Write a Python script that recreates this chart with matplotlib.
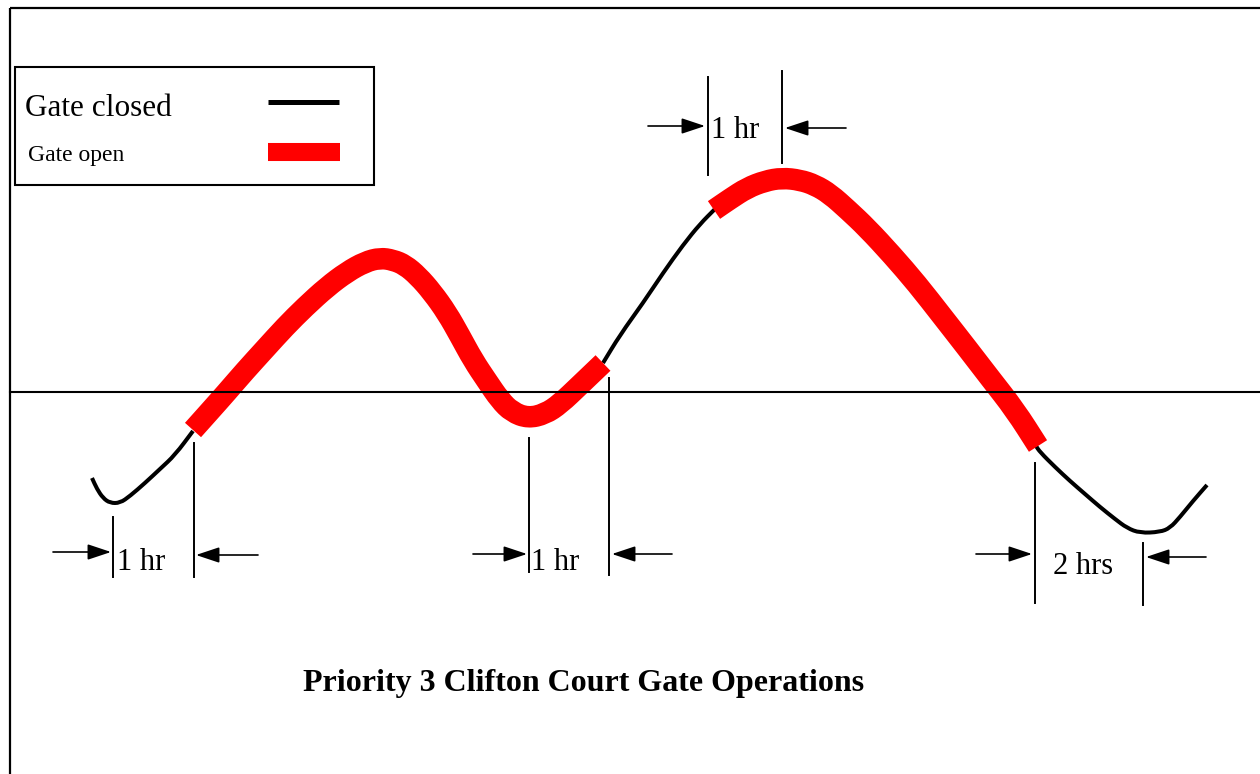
import matplotlib
matplotlib.use("Agg")
import matplotlib.pyplot as plt
from matplotlib.patches import Rectangle, PathPatch
from matplotlib.path import Path

# ---- data (x = time axis, y = stage, screen units) ----
closed1_x = [92, 97, 103, 110, 120, 130, 145, 160, 175, 193]
closed1_y = [478, 489, 498, 503, 503, 496, 483, 469, 455, 431]

open1_x = [193, 210, 226, 245, 265, 285, 305, 327, 347, 365, 380, 393, 405, 418,
           432, 447, 460, 473, 487, 500, 512, 528, 545, 560, 580, 603]
open1_y = [430, 411, 393, 371, 349, 327, 307, 287, 272, 262, 258, 260, 265, 276,
           292, 313, 336, 360, 381, 400, 412, 418, 414, 404, 385, 363]

closed2_x = [603, 620, 643, 663, 683, 700, 715]
closed2_y = [363, 335, 303, 273, 245, 224, 209]

open2_x = [714, 730, 747, 765, 782, 800, 815, 830, 848, 867, 892, 917, 942, 967,
           990, 1015, 1038]
open2_y = [210, 199, 188, 181, 178, 180, 185, 194, 210, 228, 255, 284, 316, 348,
           378, 410, 446]

closed3_x = [1036, 1040, 1055, 1070, 1085, 1100, 1115, 1127, 1140, 1160, 1170,
             1180, 1193, 1207]
closed3_y = [446, 452, 467, 481, 494, 507, 519, 528, 533, 532, 528, 517, 501, 485]

legend_labels = ["Gate closed", "Gate open"]
interval_labels = ["1 hr", "1 hr", "1 hr", "2 hrs"]
title_text = "Priority 3 Clifton Court Gate Operations"

SERIF = ["Liberation Serif", "DejaVu Serif"]

fig = plt.figure(figsize=(12.6, 7.74), dpi=100)
ax = fig.add_axes([0, 0, 1, 1])
ax.set_xlim(0, 1260)
ax.set_ylim(774, 0)
ax.axis("off")

# frame (left and top edges)
ax.plot([10, 10], [7.5, 774], color="black", lw=1.6, solid_capstyle="butt")
ax.plot([10, 1260], [7.5, 7.5], color="black", lw=1.6, solid_capstyle="butt")


def smooth_curve(xs, ys, color, lw, z):
    """Draw a smooth (quadratic Bezier) curve through the read points."""
    pts = list(zip(xs, ys))
    verts = [pts[0]]
    codes = [Path.MOVETO]
    if len(pts) > 2:
        m = ((pts[0][0] + pts[1][0]) / 2, (pts[0][1] + pts[1][1]) / 2)
        verts.append(m)
        codes.append(Path.LINETO)
        for i in range(1, len(pts) - 1):
            nm = ((pts[i][0] + pts[i + 1][0]) / 2, (pts[i][1] + pts[i + 1][1]) / 2)
            verts += [pts[i], nm]
            codes += [Path.CURVE3, Path.CURVE3]
    verts.append(pts[-1])
    codes.append(Path.LINETO)
    patch = PathPatch(Path(verts, codes), fill=False, edgecolor=color, lw=lw,
                      capstyle="butt", joinstyle="round", zorder=z)
    ax.add_patch(patch)


RED = "#ff0000"
for xs, ys in [(closed1_x, closed1_y), (closed2_x, closed2_y), (closed3_x, closed3_y)]:
    smooth_curve(xs, ys, "black", 2.9, 2)
for xs, ys in [(open1_x, open1_y), (open2_x, open2_y)]:
    smooth_curve(xs, ys, RED, 15.5, 3)

# zero line
ax.plot([10, 1260], [392, 392], color="black", lw=1.5, zorder=4)


def vline(x, y0, y1):
    ax.plot([x, x], [y0, y1], color="black", lw=1.4, zorder=5)


def arrow(x_from, x_to, y):
    ax.annotate("", xy=(x_to, y), xytext=(x_from, y),
                arrowprops=dict(arrowstyle="-|>,head_length=0.72,head_width=0.24",
                                mutation_scale=20, color="black", lw=1.2,
                                shrinkA=0, shrinkB=0), zorder=5)


dims = [
    ((113, 517, 577), (194, 443, 577), (53, 111, 552), (258, 196, 555), 117, 563),
    ((529, 438, 572), (609, 378, 575), (473, 527, 554), (672, 612, 554), 531, 563),
    ((708, 77, 175), (782, 71, 163), (648, 705, 126), (846, 785, 128), 711, 131),
    ((1035, 463, 603), (1143, 543, 605), (976, 1032, 554), (1206, 1146, 557), 1053, 566),
]
for (l, r, la, ra, tx, ty), lab in zip(dims, interval_labels):
    vline(*l)
    vline(*r)
    arrow(*la)
    arrow(*ra)
    ax.text(tx, ty, lab, family=SERIF, fontsize=22, ha="left", va="center", zorder=6)

# legend box
ax.add_patch(Rectangle((15, 67), 359, 118, facecolor="white", edgecolor="black", lw=1.5, zorder=6))
ax.text(25, 109, legend_labels[0], family=SERIF, fontsize=22.5, ha="left", va="center", zorder=7)
ax.text(28, 155, legend_labels[1], family=SERIF, fontsize=17, ha="left", va="center", zorder=7)
ax.plot([268, 339], [102, 102], color="black", lw=3.6, solid_capstyle="butt", zorder=7)
ax.plot([268, 340], [152, 152], color=RED, lw=13, solid_capstyle="butt", zorder=7)

# title
ax.text(584, 684, title_text, family=SERIF, fontsize=23, fontweight="bold",
        ha="center", va="center")

fig.savefig("out.png", dpi=100)
